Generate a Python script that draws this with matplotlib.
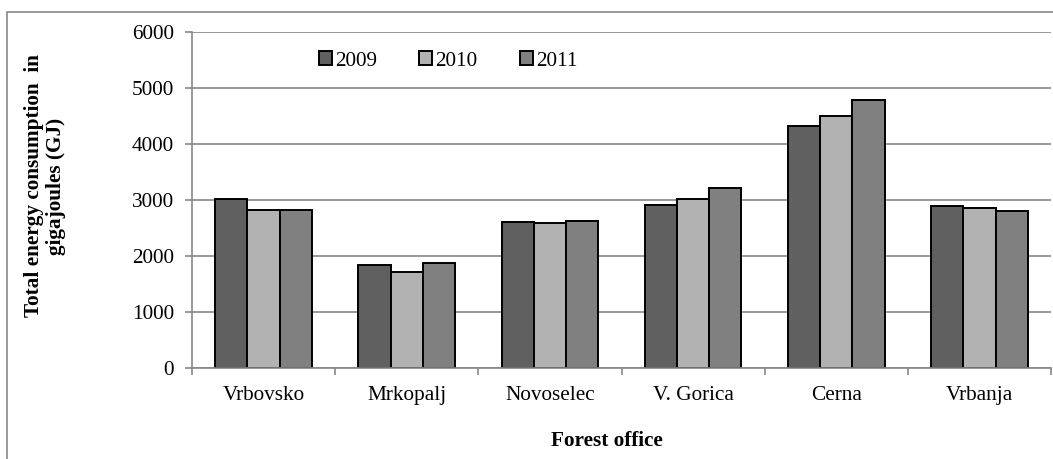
import matplotlib
matplotlib.use("Agg")
import matplotlib.pyplot as plt
import numpy as np
from matplotlib.patches import Rectangle

categories = ["Vrbovsko", "Mrkopalj", "Novoselec", "V. Gorica", "Cerna", "Vrbanja"]
years = ["2009", "2010", "2011"]
values_2009 = [3020, 1840, 2615, 2915, 4330, 2900]
values_2010 = [2820, 1710, 2583, 3020, 4505, 2853]
values_2011 = [2820, 1872, 2625, 3210, 4787, 2800]
yticks = [0, 1000, 2000, 3000, 4000, 5000, 6000]

colors = ["#606060", "#b2b2b2", "#808080"]
grid_c = "#878787"
FS = 15.3

plt.rcParams['font.family'] = ['Liberation Serif', 'DejaVu Serif']

W, H = 1053, 459
fig = plt.figure(figsize=(W / 100, H / 100), dpi=100)
ax = fig.add_axes([192 / W, 1 - 368 / H, (1051 - 192) / W, (368 - 32) / H])

x = np.arange(len(categories))
bw = 0.225
series = [values_2009, values_2010, values_2011]
for i, (vals, yr) in enumerate(zip(series, years)):
    ax.bar(x + (i - 1) * bw, vals, width=bw, color=colors[i],
           edgecolor="black", linewidth=1.4, label=yr, zorder=3)

ax.set_xlim(-0.5, len(categories) - 0.5)
ax.set_ylim(0, 6000)
ax.set_yticks(yticks)
ax.set_yticklabels([str(v) for v in yticks], fontsize=FS)
ax.set_xticks(x)
ax.set_xticklabels(categories, fontsize=FS)
ax.set_xticks(np.arange(-0.5, len(categories), 1.0), minor=True)
ax.tick_params(axis='x', which='major', length=0, pad=13)
ax.tick_params(axis='x', which='minor', length=5, width=1.2, color=grid_c, direction='out')
ax.tick_params(axis='y', which='major', length=5, width=1.2, color=grid_c, direction='out', pad=8)

ax.yaxis.grid(True, color=grid_c, linewidth=1.2, zorder=0)
ax.set_axisbelow(True)
for s in ['top', 'right']:
    ax.spines[s].set_visible(False)
for s in ['left', 'bottom']:
    ax.spines[s].set_color(grid_c)
    ax.spines[s].set_linewidth(1.2)
    ax.spines[s].set_zorder(4)

leg = fig.legend(loc='center', bbox_to_anchor=(448 / W, 1 - 61 / H), ncol=3,
                 frameon=False, fontsize=FS, handlelength=0.6, handleheight=0.6,
                 handletextpad=0.15, columnspacing=2.0)

fig.text(607 / W, 1 - 441 / H, "Forest office", ha='center', va='center',
         fontsize=FS, fontweight='bold')
fig.text(45 / W, 1 - 186 / H, "Total energy consumption  in\ngigajoules (GJ)",
         ha='center', va='center', rotation=90, fontsize=FS,
         fontweight='bold', multialignment='center', linespacing=1.1)

# outer frame
fig.patches.append(Rectangle((7 / W, -0.05), 1.1, 1 - 12 / H + 0.05,
                             transform=fig.transFigure, fill=False,
                             edgecolor=grid_c, linewidth=1.2))

fig.savefig("out.png", dpi=100)
